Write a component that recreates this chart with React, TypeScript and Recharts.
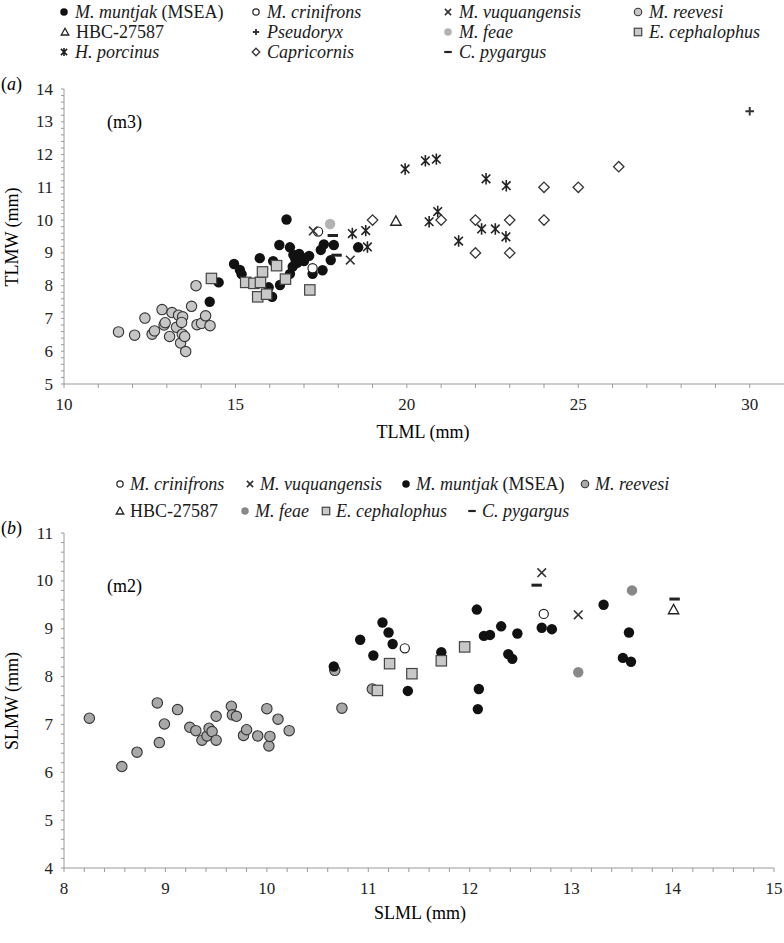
import { ScatterChart, Scatter, XAxis, YAxis } from 'recharts'

type Pt = [number, number]

// ─── Panel (a): m3, TLML vs TLMW ─────────────────────────────────────────────
const reevesiA: Pt[] = [
  [11.59, 6.59], [12.06, 6.49], [12.36, 7.01], [12.57, 6.52], [12.64, 6.62], [12.86, 7.27],
  [12.92, 6.8], [12.95, 6.87], [13.08, 6.45], [13.15, 7.18], [13.28, 6.73], [13.34, 7.1],
  [13.4, 6.25], [13.46, 7.05], [13.43, 6.88], [13.45, 6.52], [13.52, 6.45], [13.55, 5.99],
  [13.72, 7.37], [13.85, 8.0], [13.88, 6.81], [14.01, 6.85], [14.13, 7.08], [14.26, 6.78],
]
const muntjakA: Pt[] = [
  [14.25, 7.51], [14.51, 8.1], [14.96, 8.66], [15.13, 8.48], [15.18, 8.35], [15.71, 8.84],
  [15.97, 7.95], [16.07, 7.66], [16.1, 8.75], [16.28, 9.24], [16.3, 8.02], [16.49, 10.02],
  [16.59, 9.17], [16.59, 8.36], [16.67, 8.58], [16.69, 8.94], [16.75, 8.8], [16.8, 8.7],
  [16.86, 8.97], [16.95, 8.85], [17.0, 8.75], [17.15, 8.91], [17.25, 8.36], [17.49, 9.09],
  [17.54, 8.47], [17.58, 9.26], [17.78, 8.78], [17.87, 9.24], [18.58, 9.17],
]
const cephalophusA: Pt[] = [
  [14.3, 8.22], [15.3, 8.1], [15.54, 8.07], [15.73, 8.1], [15.79, 8.42], [16.2, 8.61],
  [16.46, 8.2], [15.65, 7.66], [15.91, 7.74], [17.17, 7.87],
]
const crinifronsA: Pt[] = [[17.25, 8.53], [17.41, 9.65]]
const feaeA: Pt[] = [[17.76, 9.88]]
const vuquangensisA: Pt[] = [[17.27, 9.67], [18.35, 8.78]]
const porcinusA: Pt[] = [
  [18.41, 9.59], [18.8, 9.68], [18.85, 9.18], [19.95, 11.56], [20.54, 11.81], [20.86, 11.86],
  [20.9, 10.26], [20.65, 9.95], [21.51, 9.36], [22.18, 9.73], [22.31, 11.26], [22.58, 9.73],
  [22.89, 9.49], [22.9, 11.05],
]
const capricornisA: Pt[] = [
  [19, 10], [21, 10], [22, 10], [23, 10], [24, 10], [24, 11], [25, 11], [26.18, 11.63],
  [22, 9], [23, 9],
]
const hbcA: Pt[] = [[19.68, 9.97]]
const pseudoryxA: Pt[] = [[30, 13.32]]
const pygargusA: Pt[] = [[17.84, 9.53], [17.95, 8.93]]

// ─── Panel (b): m2, SLML vs SLMW ─────────────────────────────────────────────
const reevesiB: Pt[] = [
  [8.25, 7.13], [8.57, 6.12], [8.72, 6.42], [8.92, 7.45], [8.94, 6.62], [8.99, 7.01],
  [9.12, 7.31], [9.24, 6.94], [9.3, 6.87], [9.36, 6.67], [9.41, 6.76], [9.43, 6.92],
  [9.46, 6.85], [9.5, 6.67], [9.5, 7.17], [9.65, 7.38], [9.66, 7.2], [9.7, 7.17],
  [9.77, 6.77], [9.8, 6.89], [9.91, 6.76], [10.0, 7.33], [10.02, 6.55], [10.03, 6.75],
  [10.11, 7.11], [10.22, 6.87], [10.67, 8.13], [10.74, 7.34], [11.04, 7.74],
]
const muntjakB: Pt[] = [
  [10.66, 8.21], [10.92, 8.77], [11.05, 8.44], [11.14, 9.13], [11.2, 8.92], [11.24, 8.68],
  [11.39, 7.7], [11.72, 8.51], [12.07, 9.4], [12.09, 7.74], [12.08, 7.32], [12.14, 8.85],
  [12.2, 8.87], [12.31, 9.05], [12.38, 8.47], [12.42, 8.37], [12.47, 8.9], [12.71, 9.02],
  [12.81, 8.99], [13.32, 9.5], [13.51, 8.39], [13.57, 8.92], [13.59, 8.31],
]
const cephalophusB: Pt[] = [[11.09, 7.71], [11.21, 8.27], [11.43, 8.06], [11.72, 8.33], [11.95, 8.62]]
const crinifronsB: Pt[] = [[11.36, 8.59], [12.73, 9.31]]
const vuquangensisB: Pt[] = [[12.71, 10.17], [13.07, 9.29]]
const feaeB: Pt[] = [[13.6, 9.8], [13.07, 8.09]]
const pygargusB: Pt[] = [[12.66, 9.91], [14.02, 9.62]]
const hbcB: Pt[] = [[14.01, 9.4]]

// axis labels
const xMajorA = [10, 15, 20, 25, 30]
const yMajorA = [5, 6, 7, 8, 9, 10, 11, 12, 13, 14]
const xMajorB = [8, 9, 10, 11, 12, 13, 14, 15]
const yMajorB = [4, 5, 6, 7, 8, 9, 10, 11]

const minor = (from: number, to: number, step: number) => {
  const out: number[] = []
  for (let v = from; v <= to + 1e-9; v += step) out.push(Math.round(v * 100) / 100)
  return out
}

const toObj = (pts: Pt[]) => pts.map(([x, y]) => ({ x, y }))

const FONT = "'Liberation Serif', 'Times New Roman', Tinos, 'DejaVu Serif', serif"
const AXIS = '#9a9a9a'
const txt = { fontFamily: FONT, fontSize: 18 }

// ─── Markers ─────────────────────────────────────────────────────────────────
function Marker({ kind, cx, cy, s = 1 }: { kind: string; cx: number; cy: number; s?: number }) {
  const r = 5.2 * s
  const d = 4.3 * s
  switch (kind) {
    case 'muntjak':
      return <circle cx={cx} cy={cy} r={r} fill="#111" />
    case 'crinifrons':
      return <circle cx={cx} cy={cy} r={r - 0.6} fill="#fff" stroke="#222" strokeWidth={1.2} />
    case 'reevesiA':
      return <circle cx={cx} cy={cy} r={r} fill="#c6c6c6" stroke="#333" strokeWidth={1.1} />
    case 'reevesiB':
      return <circle cx={cx} cy={cy} r={r} fill="#a8a8a8" stroke="#333" strokeWidth={1.1} />
    case 'feaeA':
      return <circle cx={cx} cy={cy} r={r} fill="#b3b3b3" />
    case 'feaeB':
      return <circle cx={cx} cy={cy} r={r} fill="#888" />
    case 'square':
      return <rect x={cx - r} y={cy - r} width={2 * r} height={2 * r} fill="#c8c8c8" stroke="#444" strokeWidth={1.2} />
    case 'vuquangensis':
      return <path d={`M${cx - d},${cy - d}L${cx + d},${cy + d}M${cx + d},${cy - d}L${cx - d},${cy + d}`} stroke="#333" strokeWidth={1.6} />
    case 'hbc':
      return <path d={`M${cx},${cy - r}L${cx + r},${cy + 0.8 * r}L${cx - r},${cy + 0.8 * r}Z`} fill="#fff" stroke="#222" strokeWidth={1.3} />
    case 'pseudoryx':
      return <path d={`M${cx - d},${cy}L${cx + d},${cy}M${cx},${cy - d}L${cx},${cy + d}`} stroke="#333" strokeWidth={1.9} />
    case 'capricornis':
      return <path d={`M${cx},${cy - r}L${cx + r},${cy}L${cx},${cy + r}L${cx - r},${cy}Z`} fill="#fff" stroke="#333" strokeWidth={1.3} />
    case 'porcinus':
      return (
        <path
          d={`M${cx},${cy - 1.1 * r}L${cx},${cy + 1.1 * r}M${cx - d},${cy - d}L${cx + d},${cy + d}M${cx + d},${cy - d}L${cx - d},${cy + d}`}
          stroke="#222" strokeWidth={1.6}
        />
      )
    case 'pygargus':
      return <rect x={cx - r} y={cy - 1.5 * s} width={2 * r} height={3 * s} fill="#222" />
    default:
      return null
  }
}

const shapeOf = (kind: string) => (p: any) => <Marker kind={kind} cx={p.cx} cy={p.cy} />

// ─── Ticks ───────────────────────────────────────────────────────────────────
function XTick({ x, y, payload, majors }: any) {
  const isMajor = majors.includes(payload.value)
  return (
    <g>
      <line x1={x} x2={x} y1={y} y2={y + 4} stroke={AXIS} />
      {isMajor && (
        <text x={x} y={y + 20} textAnchor="middle" dominantBaseline="central" style={{ ...txt, fontSize: 17 }} fill="#222">
          {payload.value}
        </text>
      )}
    </g>
  )
}

function YTick({ x, y, payload, majors }: any) {
  const isMajor = majors.includes(payload.value)
  return (
    <g>
      <line x1={x - 3} x2={x} y1={y} y2={y} stroke={AXIS} />
      {isMajor && (
        <text x={x - 11} y={y} textAnchor="end" dominantBaseline="central" style={{ ...txt, fontSize: 17 }} fill="#222">
          {payload.value}
        </text>
      )}
    </g>
  )
}

// ─── Legend ──────────────────────────────────────────────────────────────────
type Item = { kind: string; it: string; rest?: string; x: number; y: number }

const legendA: Item[] = [
  { kind: 'muntjak', it: 'M. muntjak', rest: ' (MSEA)', x: 64, y: 12 },
  { kind: 'crinifrons', it: 'M. crinifrons', x: 256, y: 12 },
  { kind: 'vuquangensis', it: 'M. vuquangensis', x: 448, y: 12 },
  { kind: 'reevesiA', it: 'M. reevesi', x: 638, y: 12 },
  { kind: 'hbc', it: '', rest: 'HBC-27587', x: 65, y: 32 },
  { kind: 'pseudoryx', it: 'Pseudoryx', x: 256, y: 32 },
  { kind: 'feaeA', it: 'M. feae', x: 448, y: 32 },
  { kind: 'square', it: 'E. cephalophus', x: 638, y: 32 },
  { kind: 'porcinus', it: 'H. porcinus', x: 64, y: 52 },
  { kind: 'capricornis', it: 'Capricornis', x: 256, y: 52 },
  { kind: 'pygargus', it: 'C. pygargus', x: 448, y: 52 },
]

const legendB: Item[] = [
  { kind: 'crinifrons', it: 'M. crinifrons', x: 120, y: 484 },
  { kind: 'vuquangensis', it: 'M. vuquangensis', x: 250, y: 484 },
  { kind: 'muntjak', it: 'M. muntjak', rest: ' (MSEA)', x: 406, y: 484 },
  { kind: 'reevesiB', it: 'M. reevesi', x: 585, y: 484 },
  { kind: 'hbc', it: '', rest: 'HBC-27587', x: 120, y: 511 },
  { kind: 'feaeB', it: 'M. feae', x: 245, y: 511 },
  { kind: 'square', it: 'E. cephalophus', x: 326, y: 511 },
  { kind: 'pygargus', it: 'C. pygargus', x: 472, y: 511 },
]

function LegendItems({ items, gap }: { items: Item[]; gap: number }) {
  return (
    <>
      {items.map((d) => (
        <g key={d.kind + d.it + d.x}>
          <Marker kind={d.kind} cx={d.x} cy={d.y} s={0.72} />
          <text x={d.x + gap} y={d.y} dominantBaseline="central" style={txt} fill="#1a1a1a">
            {d.it && <tspan style={{ fontStyle: 'italic' }}>{d.it}</tspan>}
            {d.rest && <tspan>{d.rest}</tspan>}
          </text>
        </g>
      ))}
    </>
  )
}

// ─── Panel ───────────────────────────────────────────────────────────────────
interface PanelProps {
  top: number
  height: number
  margin: { top: number; right: number; bottom: number; left: number }
  xDomain: [number, number]
  yDomain: [number, number]
  xTicks: number[]
  yTicks: number[]
  xMajors: number[]
  yMajors: number[]
  series: { kind: string; pts: Pt[] }[]
}

function Panel({ top, height, margin, xDomain, yDomain, xTicks, yTicks, xMajors, yMajors, series }: PanelProps) {
  return (
    <div style={{ position: 'absolute', left: 0, top }}>
      <ScatterChart width={784} height={height} margin={margin}>
        <XAxis
          type="number" dataKey="x" domain={xDomain} ticks={xTicks} interval={0}
          tickSize={0} tickMargin={0} height={30} axisLine={{ stroke: AXIS }} tickLine={false}
          tick={<XTick majors={xMajors} />}
        />
        <YAxis
          type="number" dataKey="y" domain={yDomain} ticks={yTicks} interval={0}
          tickSize={0} tickMargin={0} width={60} axisLine={{ stroke: AXIS }} tickLine={false}
          tick={<YTick majors={yMajors} />}
        />
        {series.map((s, i) => (
          <Scatter key={i} data={toObj(s.pts)} shape={shapeOf(s.kind)} isAnimationActive={false} />
        ))}
      </ScatterChart>
    </div>
  )
}

export default function App() {
  return (
    <div style={{ position: 'absolute', left: 0, top: 0, width: 784, height: 943, background: '#fff', fontFamily: FONT }}>
      <Panel
        top={0} height={440}
        margin={{ top: 89, right: 0, bottom: 26, left: 4 }}
        xDomain={[10, 31]} yDomain={[5, 14]}
        xTicks={minor(10, 30, 1)} yTicks={minor(5, 14, 0.2)}
        xMajors={xMajorA} yMajors={yMajorA}
        series={[
          { kind: 'reevesiA', pts: reevesiA },
          { kind: 'muntjak', pts: muntjakA },
          { kind: 'square', pts: cephalophusA },
          { kind: 'crinifrons', pts: crinifronsA },
          { kind: 'feaeA', pts: feaeA },
          { kind: 'vuquangensis', pts: vuquangensisA },
          { kind: 'porcinus', pts: porcinusA },
          { kind: 'capricornis', pts: capricornisA },
          { kind: 'hbc', pts: hbcA },
          { kind: 'pseudoryx', pts: pseudoryxA },
          { kind: 'pygargus', pts: pygargusA },
        ]}
      />
      <Panel
        top={440} height={503}
        margin={{ top: 93, right: 10, bottom: 45, left: 4 }}
        xDomain={[8, 15]} yDomain={[4, 11]}
        xTicks={minor(8, 15, 0.2)} yTicks={minor(4, 11, 0.2)}
        xMajors={xMajorB} yMajors={yMajorB}
        series={[
          { kind: 'reevesiB', pts: reevesiB },
          { kind: 'muntjak', pts: muntjakB },
          { kind: 'square', pts: cephalophusB },
          { kind: 'crinifrons', pts: crinifronsB },
          { kind: 'feaeB', pts: feaeB },
          { kind: 'vuquangensis', pts: vuquangensisB },
          { kind: 'hbc', pts: hbcB },
          { kind: 'pygargus', pts: pygargusB },
        ]}
      />
      <svg width={784} height={943} style={{ position: 'absolute', left: 0, top: 0, pointerEvents: 'none' }}>
        <LegendItems items={legendA} gap={11} />
        <LegendItems items={legendB} gap={10} />

        <text x={1} y={84} dominantBaseline="central" style={txt}>
          (<tspan style={{ fontStyle: 'italic' }}>a</tspan>)
        </text>
        <text x={107} y={122} dominantBaseline="central" style={txt}>(m3)</text>
        <text x={423} y={432} textAnchor="middle" dominantBaseline="central" style={txt}>TLML (mm)</text>
        <text transform="translate(12,237) rotate(-90)" textAnchor="middle" dominantBaseline="central" style={txt}>
          TLMW (mm)
        </text>

        <text x={1} y={528} dominantBaseline="central" style={txt}>
          (<tspan style={{ fontStyle: 'italic' }}>b</tspan>)
        </text>
        <text x={107} y={586} dominantBaseline="central" style={txt}>(m2)</text>
        <text x={420} y={913} textAnchor="middle" dominantBaseline="central" style={txt}>SLML (mm)</text>
        <text transform="translate(12,701) rotate(-90)" textAnchor="middle" dominantBaseline="central" style={txt}>
          SLMW (mm)
        </text>
      </svg>
    </div>
  )
}
